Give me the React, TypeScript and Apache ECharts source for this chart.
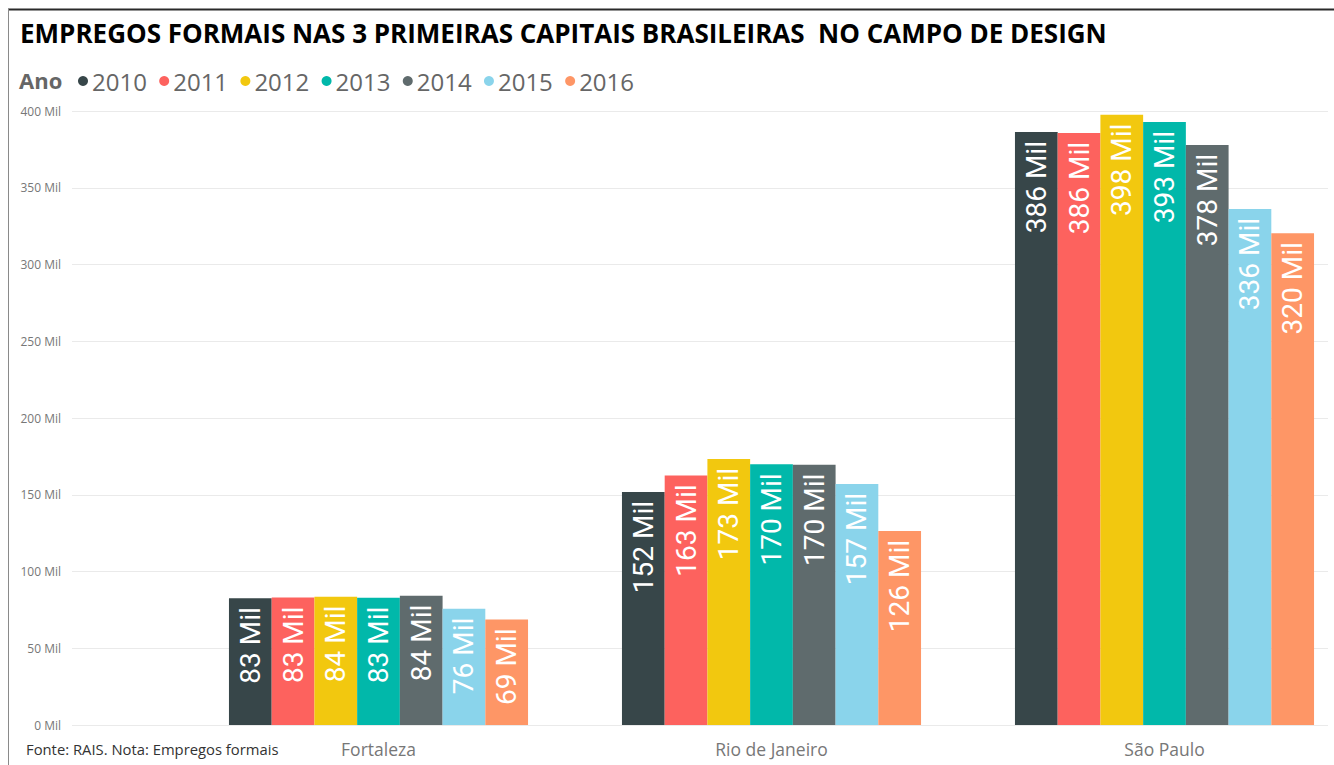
import React, { useEffect, useRef } from "react";
import * as echarts from "echarts";

const titleText = "EMPREGOS FORMAIS NAS 3 PRIMEIRAS CAPITAIS BRASILEIRAS  NO CAMPO DE DESIGN";
const legendTitle = "Ano";
const footnote = "Fonte: RAIS. Nota: Empregos formais";
const categories = ["Fortaleza", "Rio de Janeiro", "São Paulo"];
const years = ["2010", "2011", "2012", "2013", "2014", "2015", "2016"];
const colors = ["#374649", "#FD625E", "#F2C80F", "#01B8AA", "#5F6B6D", "#8AD4EB", "#FE9666"];

// values in thousands (Mil)
const v2010 = [82.6, 151.8, 386.3];
const v2011 = [83.0, 162.6, 385.7];
const v2012 = [83.6, 173.3, 397.6];
const v2013 = [82.9, 169.8, 392.8];
const v2014 = [84.2, 169.6, 377.9];
const v2015 = [75.8, 157.0, 336.2];
const v2016 = [68.7, 126.4, 320.4];
const seriesValues = [v2010, v2011, v2012, v2013, v2014, v2015, v2016];

const yTicks = { min: 0, max: 400, interval: 50 };

const CW = 1400; // canvas wider than the viewport so the last band can extend past the edge

export default function App() {
  const ref = useRef<HTMLDivElement>(null);
  useEffect(() => {
    if (!ref.current) return;
    const chart = echarts.init(ref.current, null, { renderer: "svg" });
    chart.setOption({
      animation: false,
      backgroundColor: "#ffffff",
      color: colors,
      graphic: [
        { type: "line", shape: { x1: 8, y1: 9.5, x2: CW, y2: 9.5 }, style: { stroke: "#2a2a2a", lineWidth: 2 }, silent: true },
        { type: "line", shape: { x1: 8.5, y1: 9, x2: 8.5, y2: 765 }, style: { stroke: "#8a8a8a", lineWidth: 1 }, silent: true },
        {
          type: "text", left: 20, top: 20,
          style: { text: titleText, font: "bold 26px 'Open Sans', sans-serif", fill: "#000000" },
        },
        {
          type: "text", left: 19, top: 69,
          style: { text: legendTitle, font: "bold 22px 'Open Sans', sans-serif", fill: "#666666" },
        },
        {
          type: "text", left: 26, top: 741,
          style: { text: footnote, font: "14.8px 'Open Sans', sans-serif", fill: "#333333" },
        },
      ],
      legend: {
        data: years,
        left: 73,
        top: 64,
        icon: "circle",
        itemWidth: 10,
        itemHeight: 10,
        itemGap: 12.3,
        textStyle: { fontSize: 24, color: "#666666", fontFamily: "'Open Sans', sans-serif", padding: [0, 0, 0, -1] },
      },
      grid: [
        { left: 72, right: CW - 1328, top: 111, bottom: 40 },
        { left: 182, right: CW - 1361, top: 111, bottom: 40 },
      ],
      xAxis: [
        { type: "category", gridIndex: 0, data: categories, show: false },
        {
          type: "category", gridIndex: 1, data: categories,
          axisLine: { show: false }, axisTick: { show: false },
          axisLabel: { fontSize: 17.5, color: "#777777", margin: 15, fontFamily: "'Open Sans', sans-serif" },
        },
      ],
      yAxis: [
        {
          type: "value", gridIndex: 0, min: yTicks.min, max: yTicks.max, interval: yTicks.interval,
          axisLine: { show: false }, axisTick: { show: false },
          axisLabel: { formatter: "{value} Mil", fontSize: 12, color: "#777777", margin: 11, fontFamily: "'Open Sans', sans-serif" },
          splitLine: { lineStyle: { color: "#eaeaea", width: 1 } },
        },
        { type: "value", gridIndex: 1, min: yTicks.min, max: yTicks.max, interval: yTicks.interval, show: false, splitLine: { show: false } },
      ],
      series: years.map((y, i) => ({
        name: y,
        type: "bar",
        xAxisIndex: 1,
        yAxisIndex: 1,
        data: seriesValues[i],
        barGap: "0%",
        barCategoryGap: "23.9%",
        itemStyle: { color: colors[i] },
        label: {
          show: true,
          position: "insideTop",
          distance: 9,
          rotate: 90,
          align: "right",
          verticalAlign: "middle",
          color: "#ffffff",
          fontSize: 28,
          fontFamily: "Roboto, sans-serif",
          formatter: (p: any) => Math.round(p.value) + " Mil",
        },
      })),
    });
    return () => chart.dispose();
  }, []);
  return <div ref={ref} style={{ position: "fixed", left: 0, top: 0, width: CW, height: 765 }} />;
}
